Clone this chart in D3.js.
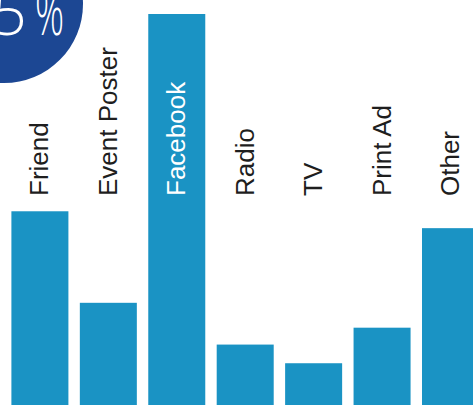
<!DOCTYPE html>
<html>
<head>
<meta charset="utf-8">
<script src="https://cdn.jsdelivr.net/npm/d3@7"></script>
<style>
  html, body { margin: 0; padding: 0; background: #fff; overflow: hidden; }
  svg { display: block; }
</style>
</head>
<body>
<svg id="chart" width="473" height="405"></svg>
<script>
const categories = ["Friend", "Event Poster", "Facebook", "Radio", "TV", "Print Ad", "Other"];
const values = [21.8, 11.5, 44, 6.8, 4.7, 8.7, 19.9];
const highlight = ["Facebook"];
const badgeNumber = ["45"];
const badgeUnit = ["%"];

const W = 473, H = 405;
const svg = d3.select("#chart");

// badge circle
svg.append("circle")
  .attr("cx", 4).attr("cy", 4).attr("r", 79)
  .attr("fill", "#1c4793");
svg.append("text")
  .attr("x", 27).attr("y", 35)
  .attr("text-anchor", "end")
  .attr("font-family", "'Open Sans', 'Liberation Sans', sans-serif")
  .attr("font-weight", 300)
  .attr("font-size", 62)
  .attr("fill", "#fff")
  .text(badgeNumber[0]);
svg.append("text")
  .attr("transform", "translate(35,35) scale(0.58,1)")
  .attr("text-anchor", "start")
  .attr("font-family", "'Open Sans', 'Liberation Sans', sans-serif")
  .attr("font-weight", 300)
  .attr("font-size", 62)
  .attr("fill", "#fff")
  .text(badgeUnit[0]);

const x = d3.scaleBand()
  .domain(categories)
  .range([11.4, 479])
  .paddingInner(0.167)
  .paddingOuter(0);

const y = d3.scaleLinear()
  .domain([0, 44])
  .range([405, 14]);

svg.append("g").selectAll("rect")
  .data(categories)
  .join("rect")
  .attr("x", d => x(d))
  .attr("width", x.bandwidth())
  .attr("y", (d, i) => y(values[i]))
  .attr("height", (d, i) => y(0) - y(values[i]))
  .attr("fill", "#1a93c4");

svg.append("g").selectAll("text")
  .data(categories)
  .join("text")
  .attr("transform", d => `translate(${x(d) + x.bandwidth() / 2},196) rotate(-90)`)
  .attr("dy", "0.33em")
  .attr("text-anchor", "start")
  .attr("font-family", "'Liberation Sans', Arial, sans-serif")
  .attr("font-size", 26)
  .attr("fill", d => highlight.includes(d) ? "#ffffff" : "#1e1e1e")
  .text(d => d);
</script>
</body>
</html>
